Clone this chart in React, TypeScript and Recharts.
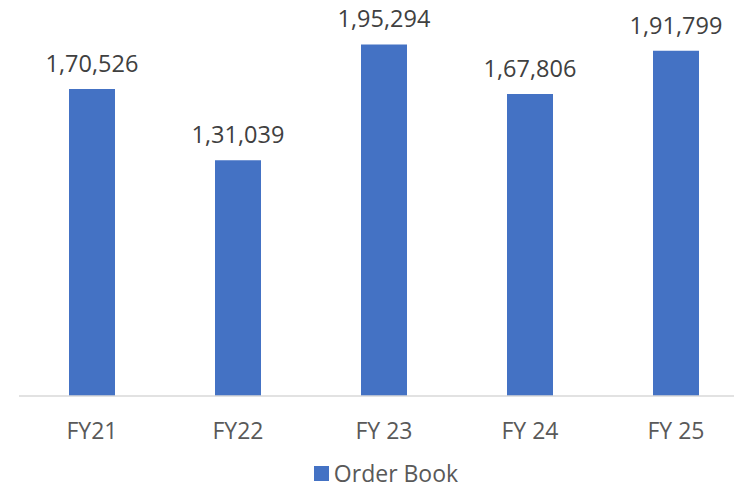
import { BarChart, Bar, XAxis, YAxis, Legend, LabelList } from 'recharts'

const years = ['FY21', 'FY22', 'FY 23', 'FY 24', 'FY 25']
const orderBook = [170526, 131039, 195294, 167806, 191799]

const data = years.map((year, i) => ({ year, value: orderBook[i] }))

const FONT = '"Open Sans", sans-serif'
const BLUE = '#4472C4'

// Indian digit grouping: 1,95,294
const formatIndian = (value: number) => {
	const s = Math.round(value).toString()
	if (s.length <= 3) return s
	const last3 = s.slice(-3)
	const rest = s.slice(0, -3).replace(/\B(?=(\d{2})+(?!\d))/g, ',')
	return rest + ',' + last3
}

const renderTick = (props: any) => {
	const { x, y, payload } = props
	return (
		<text
			x={x}
			y={y + 43}
			textAnchor='middle'
			fill='#595959'
			fontSize={23}
			fontFamily={FONT}
		>
			{payload.value}
		</text>
	)
}

const renderLabel = (props: any) => {
	const { x, y, width, value } = props
	return (
		<text
			x={x + width / 2}
			y={y - 17}
			textAnchor='middle'
			fill='#404040'
			fontSize={23.5}
			fontFamily={FONT}
		>
			{formatIndian(value)}
		</text>
	)
}

const renderLegend = () => (
	<div
		style={{
			display: 'flex',
			justifyContent: 'center',
			alignItems: 'center',
			height: 30,
			fontFamily: FONT,
			fontSize: 23,
			color: '#595959'
		}}
	>
		<span
			style={{
				display: 'inline-block',
				width: 15,
				height: 15,
				background: BLUE,
				marginRight: 5
			}}
		/>
		Order Book
	</div>
)

function App() {
	return (
		<div
			style={{
				position: 'absolute',
				left: 0,
				top: 0,
				width: 734,
				height: 490,
				overflow: 'hidden',
				background: '#fff'
			}}
		>
			<BarChart
				width={768}
				height={490}
				data={data}
				margin={{ top: 0, right: 19, left: 19, bottom: 2 }}
			>
				<XAxis
					dataKey='year'
					height={62}
					tickLine={false}
					tickSize={0}
					tickMargin={0}
					axisLine={{ stroke: '#d9d9d9', strokeWidth: 1.5 }}
					tick={renderTick}
					interval={0}
				/>
				<YAxis hide domain={[0, 220000]} />
				<Legend
					verticalAlign='bottom'
					height={30}
					content={renderLegend}
					wrapperStyle={{ width: 734 }}
				/>
				<Bar
					dataKey='value'
					name='Order Book'
					fill={BLUE}
					barSize={46}
					isAnimationActive={false}
				>
					<LabelList dataKey='value' content={renderLabel} />
				</Bar>
			</BarChart>
		</div>
	)
}

export default App
